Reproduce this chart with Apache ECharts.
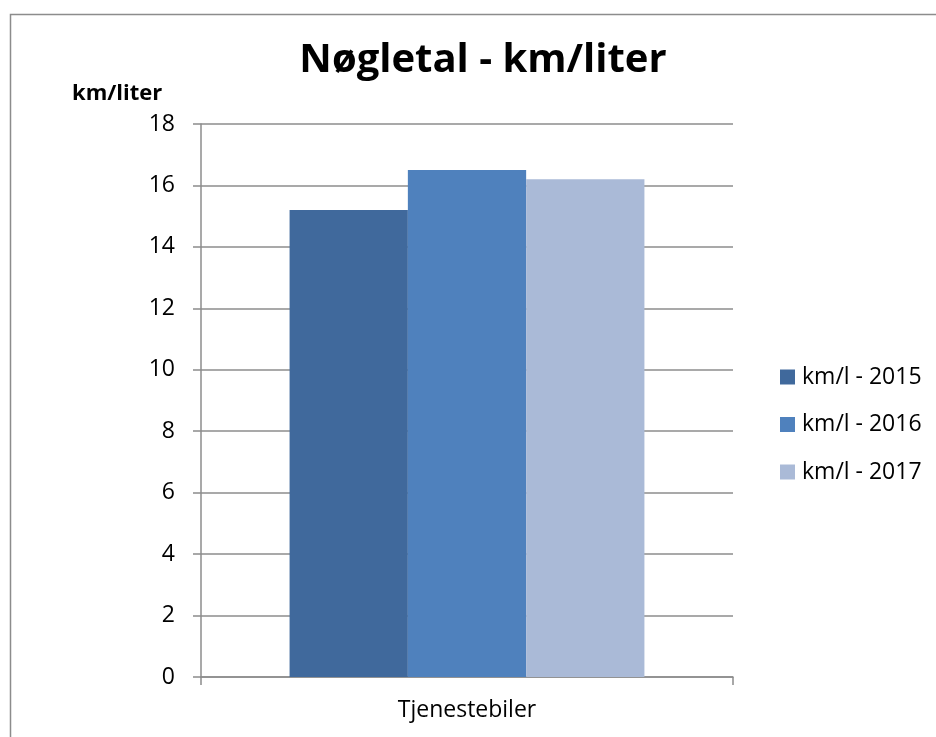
<!DOCTYPE html>
<html>
<head>
<meta charset="utf-8">
<script src="https://cdn.jsdelivr.net/npm/echarts@6/dist/echarts.min.js"></script>
<style>
html,body{margin:0;padding:0;background:#fff;}
#chart{width:936px;height:737px;}
</style>
</head>
<body>
<div id="chart"></div>
<script>
var categories = ['Tjenestebiler'];
var seriesNames = ['km/l - 2015', 'km/l - 2016', 'km/l - 2017'];
var values2015 = [15.2];
var values2016 = [16.5];
var values2017 = [16.2];
var colors = ['#40699C', '#4F81BD', '#AABAD7'];
var yTicks = {min: 0, max: 18, interval: 2};

var FONT = 'Open Sans';
var AXIS = '#8c8c8c';
var chart = echarts.init(document.getElementById('chart'), null, {renderer: 'canvas'});
var seriesData = [values2015, values2016, values2017];
chart.setOption({
  animation: false,
  backgroundColor: '#fff',
  color: colors,
  title: {
    text: 'Nøgletal - km/liter',
    left: 478, top: 36,
    textAlign: 'center',
    textStyle: {fontFamily: FONT, fontWeight: 'bold', fontSize: 40, color: '#000'}
  },
  graphic: [
    {type: 'rect', left: 8, top: 12, shape: {width: 960, height: 760},
     style: {fill: 'none', stroke: AXIS, lineWidth: 1.5}, silent: true},
    {type: 'text', left: 72, top: 83,
     style: {text: 'km/liter', fontFamily: FONT, fontWeight: 'bold', fontSize: 22, fill: '#000'}}
  ],
  legend: {
    orient: 'vertical',
    left: 775, top: 360,
    itemWidth: 15, itemHeight: 15, itemGap: 23.5,
    icon: 'rect',
    textStyle: {fontFamily: FONT, fontSize: 23, color: '#000', lineHeight: 24, padding: [0, 0, 0, 2]},
    data: seriesNames
  },
  grid: {left: 201, right: 203, top: 124, bottom: 60, containLabel: false},
  xAxis: {
    type: 'category',
    data: categories,
    axisLine: {lineStyle: {color: AXIS, width: 1.5}},
    axisTick: {show: true, length: 8, lineStyle: {color: AXIS, width: 1.5}},
    axisLabel: {fontFamily: FONT, fontSize: 23, color: '#000', margin: 22}
  },
  yAxis: {
    type: 'value',
    min: yTicks.min, max: yTicks.max, interval: yTicks.interval,
    axisLine: {show: true, lineStyle: {color: AXIS, width: 1.5}},
    axisTick: {show: true, length: 8, lineStyle: {color: AXIS, width: 1.5}},
    splitLine: {show: true, lineStyle: {color: AXIS, width: 1.5}},
    axisLabel: {fontFamily: FONT, fontSize: 23, color: '#000', margin: 26}
  },
  series: seriesNames.map(function (n, i) {
    return {
      name: n, type: 'bar', data: seriesData[i],
      barGap: '0%', barCategoryGap: '33.3%',
      itemStyle: {color: colors[i]}
    };
  })
});
</script>
</body>
</html>
